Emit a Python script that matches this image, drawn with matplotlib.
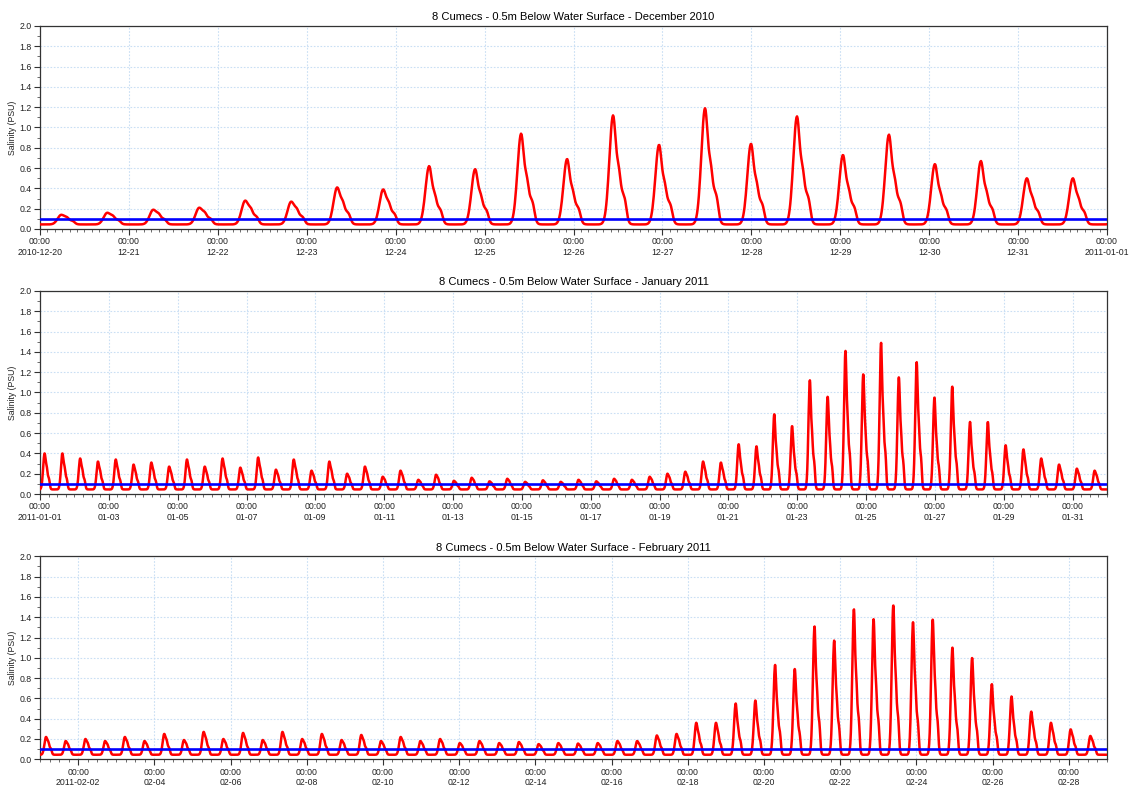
import numpy as np
import matplotlib
matplotlib.use("Agg")
import matplotlib.pyplot as plt
import matplotlib.dates as mdates
from matplotlib.ticker import FixedLocator, MultipleLocator
from datetime import datetime, timedelta

plt.rcParams['font.family'] = ['Liberation Sans', 'DejaVu Sans']

# ---------------- data ----------------
titles = ["8 Cumecs - 0.5m Below Water Surface - December 2010",
          "8 Cumecs - 0.5m Below Water Surface - January 2011",
          "8 Cumecs - 0.5m Below Water Surface - February 2011"]
ylabel = "Salinity (PSU)"
threshold = 0.1
baseline = 0.045

# tidal peak timing (hours)
first_jan_peak_h = 3.2      # first high-tide peak after 2011-01-01 00:00
tide_period_h = 12.41

# peak salinity of each tide (PSU), chronological
dec_peaks = [0.14, 0.16, 0.19, 0.21, 0.28, 0.27, 0.41, 0.39, 0.62, 0.59, 0.94, 0.69,
             1.12, 0.83, 1.19, 0.84, 1.11, 0.73, 0.93, 0.64, 0.67, 0.50, 0.50]
jan_peaks = [0.40, 0.40, 0.35, 0.32, 0.34, 0.29, 0.31, 0.27, 0.34, 0.27, 0.35, 0.26,
             0.36, 0.24, 0.34, 0.23, 0.32, 0.20, 0.27, 0.17, 0.23, 0.14, 0.19, 0.13,
             0.16, 0.125, 0.15, 0.12, 0.135, 0.12, 0.14, 0.125, 0.15, 0.14,
             0.17, 0.20, 0.22, 0.32, 0.31, 0.49, 0.47, 0.785, 0.67, 1.12, 0.96, 1.41,
             1.18, 1.49, 1.15, 1.30, 0.95, 1.06, 0.71, 0.71, 0.48, 0.44, 0.35, 0.29,
             0.25, 0.23]
feb_peaks = [0.22, 0.18, 0.20, 0.18, 0.22, 0.18, 0.25, 0.19, 0.27, 0.20, 0.26, 0.19,
             0.27, 0.20, 0.25, 0.19, 0.24, 0.18, 0.22, 0.18, 0.20, 0.16, 0.18, 0.16,
             0.17, 0.15, 0.16, 0.155, 0.16, 0.18, 0.18, 0.235, 0.25, 0.36,
             0.36, 0.55, 0.58, 0.93, 0.89, 1.31, 1.17, 1.48, 1.38, 1.52, 1.35, 1.38,
             1.10, 1.00, 0.74, 0.62, 0.47, 0.36, 0.295, 0.23]

panel_ranges = [(datetime(2010, 12, 20), datetime(2011, 1, 1)),
                (datetime(2011, 1, 1), datetime(2011, 2, 1)),
                (datetime(2011, 2, 1), datetime(2011, 3, 1))]
tick_days = [[datetime(2010, 12, 20) + timedelta(days=i) for i in range(13)],
             [datetime(2011, 1, 1) + timedelta(days=2 * i) for i in range(16)],
             [datetime(2011, 2, 2) + timedelta(days=2 * i) for i in range(14)]]
minor_hours = [2, 6, 6]

# ---------------- build the series ----------------
jan1 = datetime(2011, 1, 1)
all_peaks = dec_peaks + jan_peaks + feb_peaks
n_dec = len(dec_peaks)
peak_hours = np.array([first_jan_peak_h + (i - n_dec) * tide_period_h
                       for i in range(len(all_peaks))])  # hours relative to jan1

t_h = np.arange(-12 * 24 - 6, 59 * 24 + 6, 1 / 6.0)  # 10 minute steps


def pulse(dt, h):
    a = 0.15 + 0.27 * np.clip((h - 0.12) / 0.5, 0, 1)
    rise = np.exp(-0.5 * (dt / 1.0) ** 2)
    fall = (a * np.exp(-0.5 * (dt / 0.55) ** 2)
            + (1 - a) * 0.5 / (1 + np.exp((dt - 1.9) / 0.25))
            + (1 - a) * 0.5 / (1 + np.exp((dt - 3.6) / 0.30)))
    return np.where(dt < 0, rise, fall)


sal = np.full_like(t_h, baseline)
for ph, pv in zip(peak_hours, all_peaks):
    m = np.abs(t_h - ph) < 8
    sal[m] += (pv - baseline) * pulse(t_h[m] - ph, pv)

times = mdates.date2num(jan1) + t_h / 24.0

# ---------------- plot ----------------
fig = plt.figure(figsize=(11.32, 7.87), dpi=100)
left, width, height = 40 / 1132, 1067 / 1132, 203 / 787
bottoms = [1 - 229 / 787, 1 - 494 / 787, 1 - 759.3 / 787]

grid_col = '#cadff4'
for p in range(3):
    ax = fig.add_axes([left, bottoms[p], width, height])
    x0, x1 = panel_ranges[p]
    ax.plot(times, sal, color='#ff0000', lw=1.8, zorder=3)
    ax.axhline(threshold, color='#0000ff', lw=1.9, zorder=4)
    ax.set_xlim(mdates.date2num(x0), mdates.date2num(x1))
    ax.set_ylim(0, 2.0)
    ax.yaxis.set_major_locator(MultipleLocator(0.2))
    ax.yaxis.set_minor_locator(MultipleLocator(0.1))
    ax.yaxis.set_major_formatter(matplotlib.ticker.FormatStrFormatter('%.1f'))
    ticks = tick_days[p]
    ax.xaxis.set_major_locator(FixedLocator(mdates.date2num(ticks)))
    labels = []
    for i, d in enumerate(ticks):
        if i == 0 or (p == 0 and d == x1):
            labels.append("00:00\n" + d.strftime("%Y-%m-%d"))
        else:
            labels.append("00:00\n" + d.strftime("%m-%d"))
    ax.set_xticklabels(labels)
    ax.xaxis.set_minor_locator(mdates.HourLocator(byhour=range(0, 24, minor_hours[p])))
    ax.tick_params(axis='both', which='major', labelsize=6.3, length=4, width=0.8,
                   colors='#333333', labelcolor='#222222', pad=2)
    ax.tick_params(axis='both', which='minor', length=2.5, width=0.6, colors='#555555')
    ax.grid(True, which='major', color=grid_col, lw=0.8, linestyle=(0, (1.5, 1.5)), zorder=0)
    for s in ax.spines.values():
        s.set_color('#333333')
        s.set_linewidth(0.9)
    ax.set_ylabel(ylabel, fontsize=6.3, color='#222222', labelpad=2)
    ax.set_title(titles[p], fontsize=8, pad=4)

fig.savefig("out.png", dpi=100)
